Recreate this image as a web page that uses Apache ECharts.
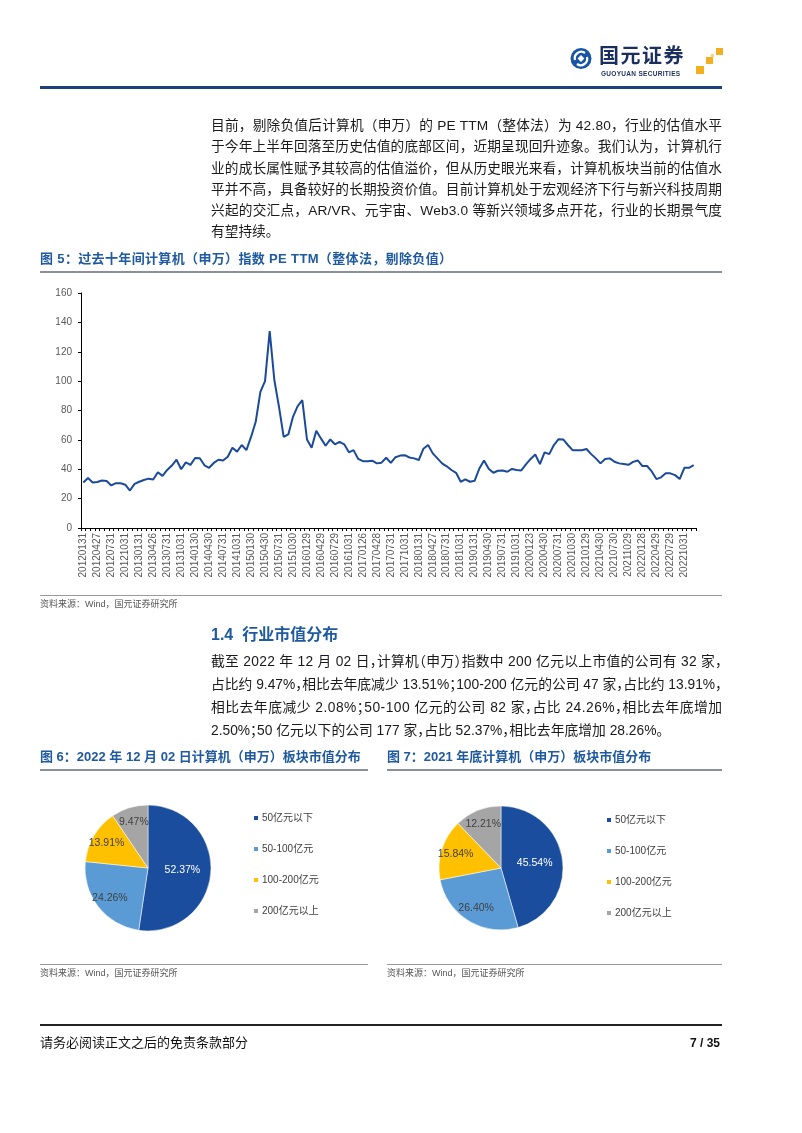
<!DOCTYPE html>
<html>
<head>
<meta charset="utf-8">
<script src="https://cdn.jsdelivr.net/npm/echarts@6/dist/echarts.min.js"></script>
<style>
  html,body{margin:0;padding:0;background:#fff;}
  #page{position:relative;width:802px;height:1133px;background:#fff;overflow:hidden;
    font-family:"Liberation Sans","Noto Sans CJK SC",sans-serif;color:#1a1a1a;}
  #chart{position:absolute;left:0;top:0;width:802px;height:1133px;}
  .t{position:absolute;white-space:nowrap;line-height:20px;height:20px;}
  .body{font-size:13.7px;left:211px;}
  .body2{font-size:13.8px;font-feature-settings:"halt";}
  .cap{font-size:13px;font-weight:bold;color:#1F5AA0;}
  .src{font-size:9px;color:#555;}
  .hr{position:absolute;height:0;}
</style>
</head>
<body>
<div id="page">
  <div id="chart"></div>

  <!-- header logo -->
  <svg style="position:absolute;left:566px;top:44px" width="30" height="30" viewBox="0 0 30 30">
    <circle cx="15" cy="14.5" r="10.5" fill="#1856A5"/>
    <path d="M9 16 A6.5 6.5 0 0 1 19 9" stroke="#fff" stroke-width="2.2" fill="none"/>
    <path d="M21 13 A6.5 6.5 0 0 1 11 20" stroke="#fff" stroke-width="2.2" fill="none"/>
    <rect x="12.6" y="12.1" width="4.8" height="4.8" fill="#fff" transform="rotate(45 15 14.5)"/>
  </svg>
  <div class="t" style="left:599px;top:46px;font-size:20px;font-weight:bold;color:#1b2f5e;letter-spacing:1.5px;">国元证券</div>
  <div class="t" style="left:601px;top:64px;font-size:6.5px;font-weight:bold;color:#1b2f5e;letter-spacing:0.3px;">GUOYUAN SECURITIES</div>
  <div style="position:absolute;left:716px;top:48px;width:7px;height:7px;background:#F2B01E"></div>
  <div style="position:absolute;left:706px;top:57px;width:7px;height:7px;background:#F2B01E"></div>
  <div style="position:absolute;left:696px;top:66px;width:8px;height:8px;background:#F2B01E"></div>
  <div style="position:absolute;left:711px;top:54px;width:3px;height:3px;background:#F7D27A"></div>
  <div class="hr" style="left:40px;top:86px;width:682px;border-top:3px solid #1F3F7F"></div>

  <!-- paragraph 1 -->
  <div class="t body j" style="top:116px">目前，剔除负值后计算机（申万）的 PE TTM（整体法）为 42.80，行业的估值水平</div>
  <div class="t body j" style="top:137px">于今年上半年回落至历史估值的底部区间，近期呈现回升迹象。我们认为，计算机行</div>
  <div class="t body j" style="top:158.5px">业的成长属性赋予其较高的估值溢价，但从历史眼光来看，计算机板块当前的估值水</div>
  <div class="t body j" style="top:180px">平并不高，具备较好的长期投资价值。目前计算机处于宏观经济下行与新兴科技周期</div>
  <div class="t body j" style="top:201px">兴起的交汇点，AR/VR、元宇宙、Web3.0 等新兴领域多点开花，行业的长期景气度</div>
  <div class="t body" style="top:222px">有望持续。</div>

  <!-- figure 5 caption -->
  <div class="t cap" style="left:40px;top:249px;letter-spacing:0.35px;">图 5：过去十年间计算机（申万）指数 PE TTM（整体法，剔除负值）</div>
  <div class="hr" style="left:40px;top:271px;width:682px;border-top:2px solid #8a8f98"></div>
  <div class="hr" style="left:40px;top:595px;width:682px;border-top:1px solid #9a9a9a"></div>
  <div class="t src" style="left:40px;top:594px">资料来源：Wind，国元证券研究所</div>

  <!-- section 1.4 -->
  <div class="t" style="left:211px;top:625px;font-size:16px;font-weight:bold;color:#1F5AA0;">1.4&nbsp; 行业市值分布</div>
  <div class="t body body2 j" style="top:652px">截至 2022 年 12 月 02 日，计算机（申万）指数中 200 亿元以上市值的公司有 32 家，</div>
  <div class="t body body2 j" style="top:675px">占比约 9.47%，相比去年底减少 13.51%；100-200 亿元的公司 47 家，占比约 13.91%，</div>
  <div class="t body body2 j" style="top:698px">相比去年底减少 2.08%；50-100 亿元的公司 82 家，占比 24.26%，相比去年底增加</div>
  <div class="t body body2" style="top:721px">2.50%；50 亿元以下的公司 177 家，占比 52.37%，相比去年底增加 28.26%。</div>

  <!-- figure 6/7 captions -->
  <div class="t cap" style="left:40px;top:747px">图 6：2022 年 12 月 02 日计算机（申万）板块市值分布</div>
  <div class="t cap" style="left:387px;top:747px">图 7：2021 年底计算机（申万）板块市值分布</div>
  <div class="hr" style="left:40px;top:769px;width:328px;border-top:2px solid #8a8f98"></div>
  <div class="hr" style="left:387px;top:769px;width:335px;border-top:2px solid #8a8f98"></div>
  <div class="hr" style="left:40px;top:964px;width:328px;border-top:1px solid #9a9a9a"></div>
  <div class="hr" style="left:387px;top:964px;width:335px;border-top:1px solid #9a9a9a"></div>
  <div class="t src" style="left:40px;top:963px">资料来源：Wind，国元证券研究所</div>
  <div class="t src" style="left:387px;top:963px">资料来源：Wind，国元证券研究所</div>

  <!-- footer -->
  <div class="hr" style="left:40px;top:1024px;width:682px;border-top:2px solid #222"></div>
  <div class="t" style="left:40px;top:1033px;font-size:13px;color:#111;">请务必阅读正文之后的免责条款部分</div>
  <div class="t" style="left:660px;width:60px;text-align:right;top:1033px;font-size:12px;font-weight:bold;color:#111;">7 / 35</div>
</div>

<script>
// justify each full text line by even letter spacing (fills 511px)
(function () {
  const target = 511;
  document.querySelectorAll('.j').forEach(el => {
    const w = el.getBoundingClientRect().width;
    const n = Array.from(el.textContent).length;
    el.style.letterSpacing = ((target - w) / (n - 1)) + 'px';
  });
})();

// ---------- data ----------
const dates = [
 '20120131','20120229','20120330','20120427','20120531','20120629','20120731','20120831','20120928','20121031','20121130','20121231',
 '20130131','20130228','20130329','20130426','20130531','20130628','20130731','20130830','20130930','20131031','20131129','20131231',
 '20140130','20140228','20140331','20140430','20140530','20140630','20140731','20140829','20140930','20141031','20141128','20141231',
 '20150130','20150227','20150331','20150430','20150529','20150630','20150731','20150831','20150930','20151030','20151130','20151231',
 '20160129','20160229','20160331','20160429','20160531','20160630','20160729','20160831','20160930','20161031','20161130','20161230',
 '20170126','20170228','20170331','20170428','20170531','20170630','20170731','20170831','20170929','20171031','20171130','20171229',
 '20180131','20180228','20180330','20180427','20180531','20180629','20180731','20180831','20180928','20181031','20181130','20181228',
 '20190131','20190228','20190329','20190430','20190531','20190628','20190731','20190830','20190930','20191031','20191129','20191231',
 '20200123','20200228','20200331','20200430','20200529','20200630','20200731','20200831','20200930','20201030','20201130','20201231',
 '20210129','20210226','20210331','20210430','20210531','20210630','20210730','20210831','20210930','20211029','20211130','20211231',
 '20220128','20220228','20220331','20220429','20220531','20220630','20220729','20220831','20220930','20221031','20221130','20221202'
];
const peTTM = [
 31, 34, 31, 31.3, 32.3, 32, 29, 30.5, 30.5, 29.5,
 25.5, 30, 31.5, 32.7, 33.6, 33, 38, 35.5, 39.5, 42.5,
 46.5, 40, 44.7, 43, 47.7, 47.5, 42.7, 41, 44.3, 46.5,
 46, 48.5, 54.6, 52, 56.5, 53, 62, 72.3, 92.7, 100,
 134, 100.7, 82.5, 62, 63.7, 75.7, 83, 87, 60.3, 54.6,
 66.2, 61, 56, 60.3, 57, 58.7, 57, 51.5, 53, 47,
 45.5, 45.5, 45.8, 44, 44.5, 47.8, 44.3, 48.2, 49.3, 49.6,
 48, 47.4, 46.3, 54, 56.5, 50.8, 47.4, 44, 42, 39.5,
 37.6, 31.5, 33.1, 31.5, 32.2, 40.5, 46, 40.4, 37.6, 39,
 39.2, 38.3, 40.2, 39.5, 39.2, 43.3, 47, 50, 43.5, 51.5,
 50.3, 56.5, 60.5, 60.3, 56.5, 53, 53, 53, 53.8, 50.3,
 47.4, 44, 47, 47.4, 45.1, 44, 43.5, 43, 45, 46,
 42.2, 42.2, 38.5, 33.3, 34.5, 37.2, 37.2, 36, 33.3, 41, 41, 42.8
];
const yMin = 0, yMax = 160, yStep = 20;
const pieNames = ['50亿元以下', '50-100亿元', '100-200亿元', '200亿元以上'];
const pie2022 = [52.37, 24.26, 13.91, 9.47];
const pie2021 = [45.54, 26.40, 15.84, 12.21];

// ---------- styles / layout ----------
const pieColors = ['#1A4D9E', '#5B9BD5', '#FFC000', '#A5A5A5'];
const fontFam = '"Liberation Sans","Noto Sans CJK SC",sans-serif';
const pie1Center = [148, 868], pie2Center = [501, 868];

function pieSeries(values, center, radius) {
  return {
    type: 'pie',
    center: center,
    radius: radius,
    startAngle: 90,
    clockwise: true,
    silent: true,
    itemStyle: { borderColor: '#fff', borderWidth: 0.5 },
    label: {
      show: true,
      position: 'inside',
      fontSize: 10.5,
      fontFamily: fontFam,
      formatter: p => p.value.toFixed(2) + '%'
    },
    labelLayout: function (params) {
      if (params.dataIndex === 0) return {};
      const r = params.labelRect;
      const cx = r.x + r.width / 2, cy = r.y + r.height / 2;
      const k = 0.4;
      return { dx: (cx - center[0]) * k, dy: (cy - center[1]) * k };
    },
    data: values.map((v, i) => ({
      name: pieNames[i],
      value: v,
      itemStyle: { color: pieColors[i] },
      label: { color: i === 0 ? '#ffffff' : '#404040' }
    }))
  };
}

function legendAt(left, top) {
  return {
    orient: 'vertical',
    left: left, top: top,
    padding: 0,
    itemGap: 21,
    itemWidth: 6, itemHeight: 6,
    icon: 'rect',
    selectedMode: false,
    textStyle: { fontSize: 10, color: '#404040', fontFamily: fontFam, padding: [0, 0, 0, -2] },
    data: pieNames
  };
}

const chart = echarts.init(document.getElementById('chart'), null, { renderer: 'canvas' });
chart.setOption({
  animation: false,
  backgroundColor: 'transparent',
  textStyle: { fontFamily: fontFam },
  grid: { left: 81, top: 293, width: 615, height: 235, containLabel: false },
  xAxis: {
    type: 'category',
    data: dates,
    boundaryGap: true,
    axisLine: { show: true, lineStyle: { color: '#000', width: 1 } },
    axisTick: { show: true, interval: 0, length: 3, lineStyle: { color: '#000' } },
    axisLabel: { interval: 2, rotate: 90, fontSize: 10, color: '#595959', margin: 5 },
    splitLine: { show: false }
  },
  yAxis: {
    type: 'value',
    min: yMin, max: yMax, interval: yStep,
    axisLine: { show: true, lineStyle: { color: '#000', width: 1 } },
    axisTick: { show: true, length: 3, lineStyle: { color: '#000' } },
    axisLabel: { fontSize: 10, color: '#595959', margin: 9 },
    splitLine: { show: false }
  },
  legend: [legendAt(252, 813), legendAt(605, 815)],
  series: [
    {
      type: 'line',
      data: peTTM,
      symbol: 'none',
      lineStyle: { color: '#1B4A9A', width: 2 },
      itemStyle: { color: '#1B4A9A' },
      silent: true
    },
    pieSeries(pie2022, pie1Center, 63),
    pieSeries(pie2021, pie2Center, 62)
  ]
});
</script>
</body>
</html>
